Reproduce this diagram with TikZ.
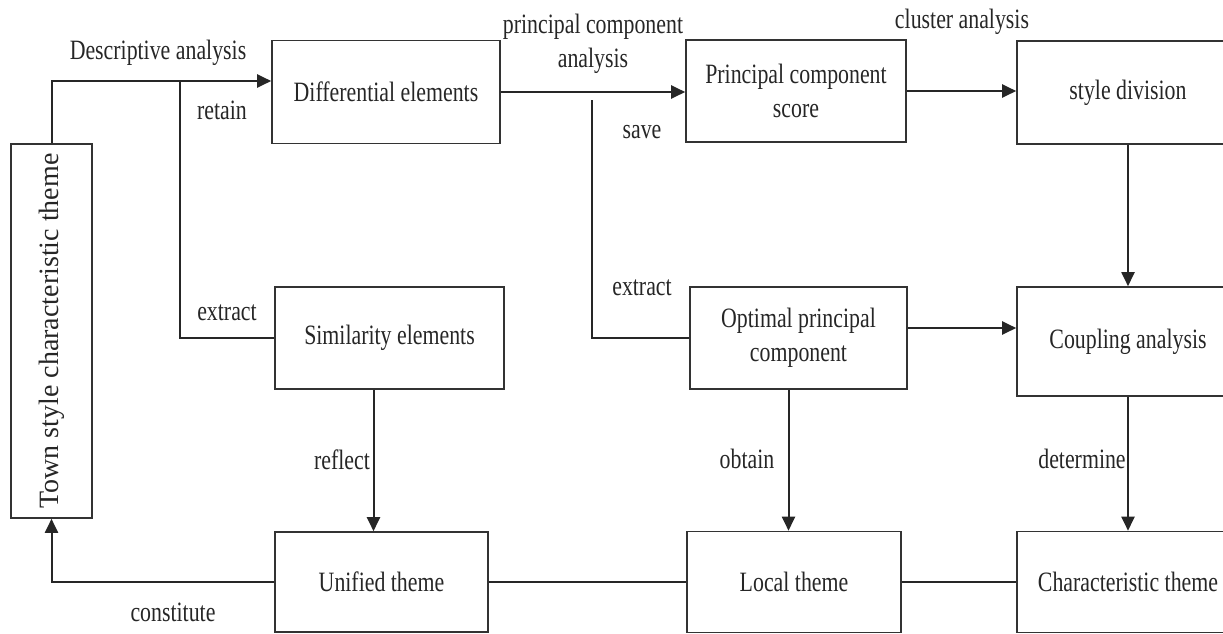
\documentclass[tikz,border=0pt]{standalone}
\usepackage{fontspec}
\setmainfont{Liberation Serif}
\newfontfamily\boxfont{Liberation Serif}[FakeStretch=0.78]
\usetikzlibrary{arrows.meta}

\begin{document}
\begin{tikzpicture}[x=1pt,y=-1pt,->,>={Triangle[length=14pt,width=13pt]},line width=2pt,
	draw=black!85,font=\boxfont\fontsize{28}{34}\selectfont,text=black!85]
	\tikzstyle{box}=[draw=black!80, line width=1.6pt, inner sep=0pt, align=center]
	\tikzstyle{lbl}=[inner sep=0pt, align=center]
	\tikzstyle{down then over}=[to path={|- (\tikztotarget) \tikztonodes}]
	\tikzstyle{over then up}=[to path={-| (\tikztotarget) \tikztonodes}]

	\useasboundingbox (0,0) rectangle (1223,633);
	\clip (0,0) rectangle (1223,633);

	% boxes
	\node[box, minimum width=81pt,  minimum height=374pt] (town)     at (51.5,331)  {\rotatebox{90}{\fontspec{Liberation Serif}\fontsize{28}{34}\selectfont Town style characteristic theme}};
	\node[box, minimum width=228pt, minimum height=103pt] (diff)     at (386,92)    {Differential elements};
	\node[box, minimum width=229pt, minimum height=102pt] (sim)      at (389.5,338) {Similarity elements};
	\node[box, minimum width=213pt, minimum height=100pt] (unified)  at (381.5,582) {Unified theme};
	\node[box, minimum width=220pt, minimum height=102pt] (pcs)      at (796,91)    {Principal component\\score};
	\node[box, minimum width=217pt, minimum height=102pt] (opt)      at (798.5,338) {Optimal principal\\component};
	\node[box, minimum width=214pt, minimum height=101pt] (local)    at (794,582)   {Local theme};
	\node[box, minimum width=222pt, minimum height=103pt] (style)    at (1128,92.5) {style division};
	\node[box, minimum width=222pt, minimum height=109pt] (coupling) at (1128,341.5) {Coupling analysis};
	\node[box, minimum width=222pt, minimum height=101pt] (char)     at (1128,582)  {Characteristic theme};

	% labels
	\node[lbl] (descr)   at (158,53)   {Descriptive analysis};
	\node[lbl] (retain)  at (222,110)  {retain};
	\node[lbl] (extr1)   at (227,313)  {extract};
	\node[lbl] (reflect) at (342,460)  {reflect};
	\node[lbl] (constit) at (173,612)  {constitute};
	\node[lbl] (pca)     at (593,44)   {principal component\\analysis};
	\node[lbl] (save)    at (642,132)  {save};
	\node[lbl] (extr2)   at (642,288)  {extract};
	\node[lbl] (obtain)  at (747,459)  {obtain};
	\node[lbl] (cluster) at (962,22)   {cluster analysis};
	\node[lbl] (determ)  at (1082,459) {determine};

	% branch points and offset ends
	\coordinate (retainfork) at (180,81);
	\coordinate (savefork)   at (592,100);
	\coordinate (diffin)     at ([yshift=11pt]diff.west);
	\coordinate (optout)     at ([yshift=10pt]opt.east);
	\coordinate (simout)     at ([xshift=-16pt]sim.south);
	\coordinate (optdown)    at ([xshift=-10pt]opt.south);

	\path
	(town)       edge [down then over]    (diffin)
	(retainfork) edge [-, down then over] (sim)
	(diff.east)  edge                     (diff.east -| pcs.west)
	(savefork)   edge [-, down then over] (opt)
	(pcs.east)   edge                     (pcs.east -| style.west)
	(style)      edge                     (coupling)
	(optout)     edge                     (optout -| coupling.west)
	(coupling)   edge                     (char)
	(simout)     edge                     (simout |- unified.north)
	(optdown)    edge                     (optdown |- local.north)
	(unified)    edge [over then up]      (town)
	(unified)    edge [-]                 (local)
	(local)      edge [-]                 (char);
\end{tikzpicture}
\end{document}
